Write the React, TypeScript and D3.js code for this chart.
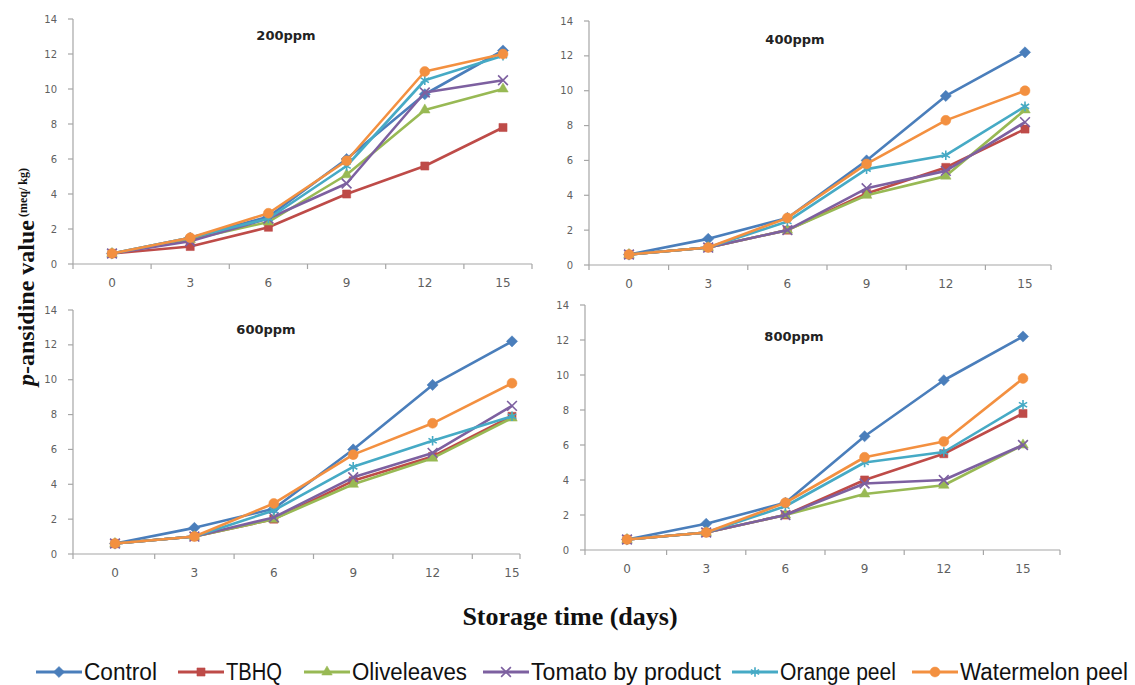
import * as d3 from 'd3';

const W = 1135, H = 685;

// storage days (category axis) and y ticks
const days = ['0', '3', '6', '9', '12', '15'];
const yTicks = [0, 2, 4, 6, 8, 10, 12, 14];

const seriesNames = ['Control', 'TBHQ', 'Oliveleaves', 'Tomato by product', 'Orange peel', 'Watermelon peel'];
const seriesColors = ['#4A7EBB', '#BE4B48', '#98B954', '#7D60A0', '#46AAC5', '#F39040'];
const seriesMarkers = ['diamond', 'square', 'triangle', 'times', 'asterisk', 'circle'];

const panelTitles = ['200ppm', '400ppm', '600ppm', '800ppm'];

// 200 ppm
const control200 = [0.6, 1.5, 2.7, 6.0, 9.7, 12.2];
const tbhq200 = [0.6, 1.0, 2.1, 4.0, 5.6, 7.8];
const olive200 = [0.6, 1.4, 2.4, 5.1, 8.8, 10.0];
const tomato200 = [0.6, 1.3, 2.6, 4.6, 9.8, 10.5];
const orange200 = [0.6, 1.5, 2.6, 5.6, 10.5, 11.9];
const watermelon200 = [0.6, 1.5, 2.9, 5.9, 11.0, 12.0];

// 400 ppm
const control400 = [0.6, 1.5, 2.7, 6.0, 9.7, 12.2];
const tbhq400 = [0.6, 1.0, 2.0, 4.1, 5.6, 7.8];
const olive400 = [0.6, 1.0, 2.0, 4.0, 5.1, 8.9];
const tomato400 = [0.6, 1.0, 2.0, 4.4, 5.4, 8.2];
const orange400 = [0.6, 1.0, 2.5, 5.5, 6.3, 9.1];
const watermelon400 = [0.6, 1.0, 2.7, 5.8, 8.3, 10.0];

// 600 ppm
const control600 = [0.6, 1.5, 2.6, 6.0, 9.7, 12.2];
const tbhq600 = [0.6, 1.0, 2.0, 4.2, 5.6, 7.9];
const olive600 = [0.6, 1.0, 2.0, 4.0, 5.5, 7.8];
const tomato600 = [0.6, 1.0, 2.1, 4.4, 5.8, 8.5];
const orange600 = [0.6, 1.0, 2.5, 5.0, 6.5, 7.9];
const watermelon600 = [0.6, 1.0, 2.9, 5.7, 7.5, 9.8];

// 800 ppm
const control800 = [0.6, 1.5, 2.7, 6.5, 9.7, 12.2];
const tbhq800 = [0.6, 1.0, 2.0, 4.0, 5.5, 7.8];
const olive800 = [0.6, 1.0, 2.0, 3.2, 3.7, 6.0];
const tomato800 = [0.6, 1.0, 2.0, 3.8, 4.0, 6.0];
const orange800 = [0.6, 1.0, 2.5, 5.0, 5.6, 8.3];
const watermelon800 = [0.6, 1.0, 2.7, 5.3, 6.2, 9.8];

const panelValues = [
  [control200, tbhq200, olive200, tomato200, orange200, watermelon200],
  [control400, tbhq400, olive400, tomato400, orange400, watermelon400],
  [control600, tbhq600, olive600, tomato600, orange600, watermelon600],
  [control800, tbhq800, olive800, tomato800, orange800, watermelon800],
];

// panel frames (pixels): y axis x, axis end, first/last category centre, y=14 and y=0, title pos
const PANELS = [
  { left: 73, end: 532, c0: 112, c1: 503, top: 19, zero: 264, tx: 286, ty: 40 },
  { left: 589, end: 1051, c0: 629, c1: 1025, top: 21, zero: 265, tx: 795, ty: 44 },
  { left: 73, end: 520, c0: 115, c1: 512, top: 310, zero: 554, tx: 266, ty: 334 },
  { left: 585, end: 1060, c0: 627, c1: 1023, top: 305, zero: 550, tx: 794, ty: 341 },
];

// legend layout: line start and text width
const LEGEND_X = [36, 178, 304, 483, 732, 912];
const LEGEND_TW = [73, 56, 115, 190, 116, 168];
const LEGEND_Y = 672;

const AXIS = '#A6A6A6';
const TICK_TXT = '#5F5F5F';

const symbolFor = {
  diamond: d3.symbol(d3.symbolDiamond2, 80),
  square: d3.symbol(d3.symbolSquare, 66),
  triangle: d3.symbol(d3.symbolTriangle, 48),
  times: d3.symbol(d3.symbolTimes, 64),
  asterisk: d3.symbol(d3.symbolAsterisk, 64),
  circle: d3.symbol(d3.symbolCircle, 78),
};

function Marker({ kind, color, x, y }) {
  const stroked = kind === 'times' || kind === 'asterisk';
  return (
    <path
      d={symbolFor[kind]()}
      transform={`translate(${x},${y})`}
      fill={stroked ? 'none' : color}
      stroke={color}
      strokeWidth={stroked ? 1.6 : 0.5}
    />
  );
}

function Panel({ idx }) {
  const p = PANELS[idx];
  const x = d3.scalePoint().domain(days).range([p.c0, p.c1]);
  const y = d3.scaleLinear().domain([0, 14]).range([p.zero, p.top]);
  const line = d3.line<number>().x((_, i) => x(days[i])).y((d) => y(d));
  const step = x.step();
  const xTickPos = [p.left, ...days.map((d) => x(d) + step / 2).filter((v) => v < p.end - 2), p.end];

  return (
    <g>
      {/* y axis */}
      <line x1={p.left} x2={p.left} y1={p.top} y2={p.zero} stroke={AXIS} strokeWidth={1.2} />
      {yTicks.map((t) => (
        <g key={t}>
          <line x1={p.left - 5} x2={p.left} y1={y(t)} y2={y(t)} stroke={AXIS} strokeWidth={1.2} />
          <text
            x={p.left - 16}
            y={y(t)}
            dy="0.35em"
            textAnchor="end"
            fontFamily="DejaVu Sans, sans-serif"
            fontSize={10}
            fill={TICK_TXT}
          >
            {t}
          </text>
        </g>
      ))}
      {/* x axis */}
      <line x1={p.left} x2={p.end} y1={p.zero} y2={p.zero} stroke={AXIS} strokeWidth={1.2} />
      {xTickPos.map((v, i) => (
        <line key={i} x1={v} x2={v} y1={p.zero} y2={p.zero + 5} stroke={AXIS} strokeWidth={1.2} />
      ))}
      {days.map((d) => (
        <text
          key={d}
          x={x(d)}
          y={p.zero + 19}
          dy="0.35em"
          textAnchor="middle"
          fontFamily="DejaVu Sans, sans-serif"
          fontSize={12}
          fill={TICK_TXT}
        >
          {d}
        </text>
      ))}
      {/* title */}
      <text
        x={p.tx}
        y={p.ty}
        textAnchor="middle"
        fontFamily="DejaVu Sans, sans-serif"
        fontWeight="bold"
        fontSize={13}
        fill="#222"
      >
        {panelTitles[idx]}
      </text>
      {/* series */}
      {panelValues[idx].map((vals, s) => (
        <g key={s}>
          <path d={line(vals)} fill="none" stroke={seriesColors[s]} strokeWidth={2.6} strokeLinejoin="round" />
          {vals.map((v, i) => (
            <Marker key={i} kind={seriesMarkers[s]} color={seriesColors[s]} x={x(days[i])} y={y(v)} />
          ))}
        </g>
      ))}
    </g>
  );
}

function Legend() {
  return (
    <g>
      {seriesNames.map((name, s) => {
        const x0 = LEGEND_X[s];
        return (
          <g key={name}>
            <line x1={x0} x2={x0 + 46} y1={LEGEND_Y} y2={LEGEND_Y} stroke={seriesColors[s]} strokeWidth={3} />
            <Marker kind={seriesMarkers[s]} color={seriesColors[s]} x={x0 + 23} y={LEGEND_Y} />
            <text
              x={x0 + 48}
              y={LEGEND_Y + 8}
              fontFamily="Liberation Sans Narrow, Arial Narrow, Liberation Sans, sans-serif"
              fontSize={23}
              fill="#111"
              textLength={LEGEND_TW[s]}
              lengthAdjust="spacingAndGlyphs"
            >
              {name}
            </text>
          </g>
        );
      })}
    </g>
  );
}

export default function App() {
  return (
    <svg width={W} height={H} style={{ position: 'absolute', left: 0, top: 0, background: '#fff' }}>
      <rect width={W} height={H} fill="#fff" />
      {PANELS.map((_, i) => (
        <Panel key={i} idx={i} />
      ))}
      {/* y axis title */}
      <text
        transform="translate(34,277) rotate(-90)"
        textAnchor="middle"
        fontFamily="Liberation Serif, Times New Roman, serif"
        fontWeight="bold"
        fontSize={24}
        fill="#111"
      >
        <tspan fontStyle="italic">p</tspan>-ansidine value
        <tspan fontSize={12} dy={-7}> (meq/ kg)</tspan>
      </text>
      {/* x axis title */}
      <text
        x={570}
        y={625}
        textAnchor="middle"
        fontFamily="Liberation Serif, Times New Roman, serif"
        fontWeight="bold"
        fontSize={26}
        fill="#111"
      >
        Storage time (days)
      </text>
      <Legend />
    </svg>
  );
}
